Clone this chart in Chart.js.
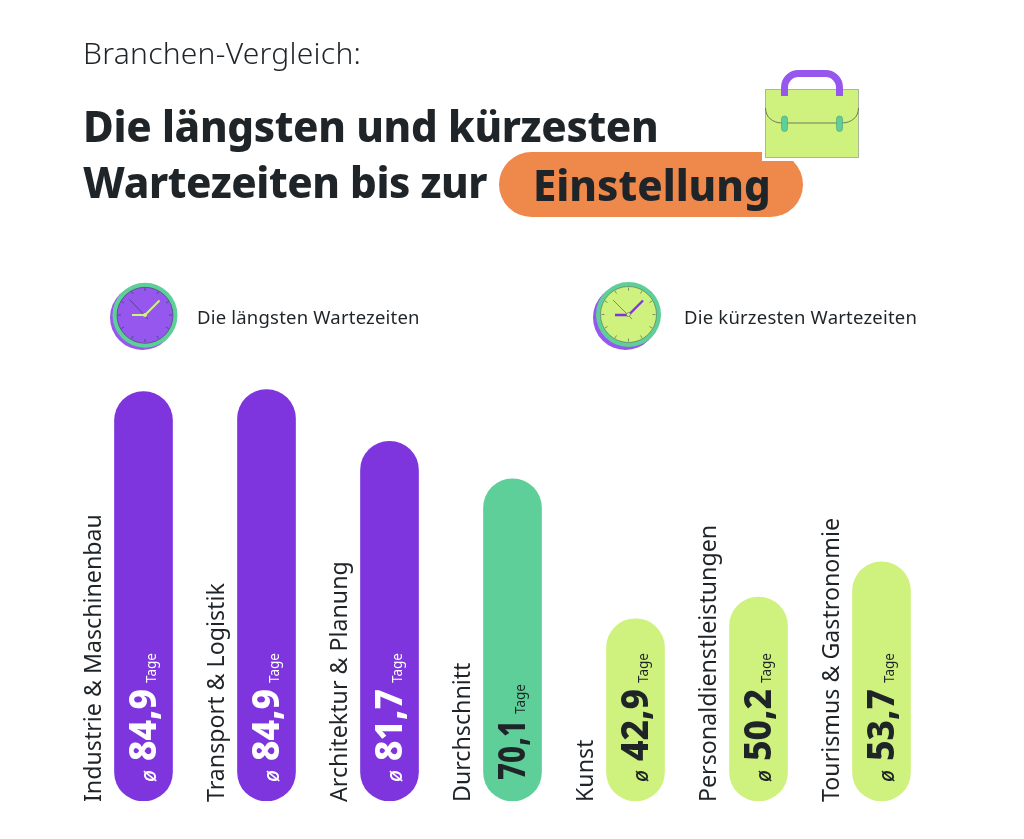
<!DOCTYPE html>
<html lang="de">
<head>
<meta charset="utf-8">
<title>Branchen-Vergleich</title>
<script src="https://cdn.jsdelivr.net/npm/chart.js@4/dist/chart.umd.min.js"></script>
<style>
  html, body { margin: 0; background: #fff; }
  #page { position: relative; width: 1024px; height: 839px; overflow: hidden; font-family: "Noto Sans", sans-serif; color: #1f2428; }
  #chart { position: absolute; left: 0; top: 0; }
  .text { position: absolute; white-space: nowrap; line-height: 1; }
  .kicker { left: 83px; top: 38px; font-size: 30px; font-weight: 350; letter-spacing: .25px; }
  .headline { font-size: 42px; font-weight: 800; }
  .pill { position: absolute; left: 499px; top: 152px; width: 304px; height: 65px; border-radius: 33px; background: #ef884b; }
  .legend { font-size: 18.500px; letter-spacing: .2px; }
  svg { position: absolute; left: 0; top: 0; }
</style>
</head>
<body>
<div id="page">
  <canvas id="chart" width="1024" height="839"></canvas>
  <div class="pill"></div>
  <svg width="1024" height="839" viewBox="0 0 1024 839">
    <rect x="762" y="86" width="100" height="75" fill="#fff"/>
    <rect x="765.500" y="89.500" width="93" height="68" fill="#cff27e" stroke="#a9b79a" stroke-width="1"/>
    <path d="M784.500 96V88a14 14 0 0 1 14-14.500h27a14 14 0 0 1 14 14.500v8" fill="none" stroke="#9557ee" stroke-width="7"/>
    <path d="M765.500 108c0 9 7 15 17 15h59c10 0 17-6 17-15" fill="none" stroke="#6f7a5c" stroke-width="1"/>
    <rect x="781.500" y="116" width="6" height="15.500" rx="3" fill="#5ecf98" stroke="#4b9c78" stroke-width=".6"/>
    <rect x="836.500" y="116" width="6" height="15.500" rx="3" fill="#5ecf98" stroke="#4b9c78" stroke-width=".6"/>

    <circle cx="142.500" cy="317.500" r="32.500" fill="#9557ee"/>
    <circle cx="145" cy="315.300" r="32.500" fill="#5ecf98"/>
    <circle cx="145" cy="315.300" r="28" fill="#9557ee" stroke="#3b3a55" stroke-width=".6"/>
    <g stroke="#4a3a77" stroke-width=".8">
      <path d="M145 288v3M145 342v-3M118 315h3M172 315h-3M131.500 291.500l1.500 2.500M158.500 291.500l-1.500 2.500M131.500 338.500l1.500-2.500M158.500 338.500l-1.500-2.500M121.500 301.500l2.500 1.500M168.500 301.500l-2.500 1.500M121.500 328.500l2.500-1.500M168.500 328.500l-2.500-1.500"/>
      <path d="M129.500 299.500L148 319"/>
    </g>
    <path d="M159.500 300.500L145 315H132" fill="none" stroke="#cff27e" stroke-width="2"/>
    <circle cx="145" cy="315" r="2" fill="#cff27e"/>

    <circle cx="625.500" cy="317.500" r="32.500" fill="#9557ee"/>
    <circle cx="628.500" cy="314.500" r="32.500" fill="#5ecf98"/>
    <circle cx="628.500" cy="314.500" r="28" fill="#cff27e" stroke="#5c6b50" stroke-width=".6"/>
    <g stroke="#66755a" stroke-width=".8">
      <path d="M628.500 287.500v3M628.500 341.500v-3M601.500 314.500h3M655.500 314.500h-3M615 291l1.500 2.500M642 291l-1.500 2.500M615 338l1.500-2.500M642 338l-1.500-2.500M605 301l2.500 1.500M652 301l-2.500 1.500M605 328l2.500-1.500M652 328l-2.500-1.500"/>
      <path d="M613 300L632 319"/>
    </g>
    <path d="M643 300.500L628.500 315H615" fill="none" stroke="#7f35dd" stroke-width="2.300"/>
    <circle cx="628.500" cy="314.500" r="2" fill="#cff27e" stroke="#66755a" stroke-width=".6"/>
  </svg>
  <div class="text kicker">Branchen-Vergleich:</div>
  <div class="text headline" style="left:83px;top:105px;letter-spacing:-.33px">Die längsten und kürzesten</div>
  <div class="text headline" style="left:83px;top:161px;letter-spacing:-.42px">Wartezeiten bis zur</div>
  <div class="text headline" style="left:533px;top:164px">Einstellung</div>
  <div class="text legend" style="left:197px;top:308px">Die längsten Wartezeiten</div>
  <div class="text legend" style="left:684px;top:308px">Die kürzesten Wartezeiten</div>
</div>
<script>
const categories = ["Industrie & Maschinenbau", "Transport & Logistik", "Architektur & Planung", "Durchschnitt", "Kunst", "Personaldienstleistungen", "Tourismus & Gastronomie"];
// printed on the bars
const printedDays = ["84,9", "84,9", "81,7", "70,1", "42,9", "50,2", "53,7"];
// the bars in the picture are not to scale with their printed figures, so their lengths are read off separately
const barDays = [84.9, 85.3, 74.6, 66.8, 37.8, 42.3, 49.6];
const groups = ["long", "long", "long", "average", "short", "short", "short"];

const PURPLE = "#7f35dd";
const GREEN = "#5ecf98";
const LIME = "#cff27e";
const INK = "#1f2428";
const groupColor = { long: PURPLE, average: GREEN, short: LIME };
const FONT = '"Noto Sans", sans-serif';

// rotated category names and the figures inside the bars
const barText = {
  id: "barText",
  afterDatasetsDraw(chart) {
    const { ctx, scales } = chart;
    const base = scales.y.getPixelForValue(0);
    chart.getDatasetMeta(0).data.forEach((bar, i) => {
      const isAverage = groups[i] === "average";
      const ink = groups[i] === "long" ? "#fff" : INK;
      ctx.save();
      ctx.translate(bar.x, base);
      ctx.rotate(-Math.PI / 2);
      ctx.textBaseline = "alphabetic";
      ctx.textAlign = "left";

      ctx.fillStyle = INK;
      ctx.font = `400 23.2px ${FONT}`;
      ctx.fillText(categories[i], -1, -43);

      ctx.fillStyle = ink;
      if (!isAverage) {
        ctx.font = `italic 500 21px ${FONT}`;
        ctx.fillText("ø", 19, 12);
      }
      const start = isAverage ? 21 : 40;
      const width = isAverage ? 60 : 72;
      ctx.font = `800 38px ${FONT}`;
      ctx.fillText(printedDays[i], start, 12, width);
      ctx.font = `400 13.5px ${FONT}`;
      ctx.fillText("Tage", start + width + 6, 12);
      ctx.restore();
    });
  }
};

new Chart(document.getElementById("chart"), {
  type: "bar",
  data: {
    labels: categories,
    datasets: [{
      data: barDays,
      backgroundColor: groups.map((g) => groupColor[g]),
      barThickness: 58,
      borderRadius: 29,
      borderSkipped: false
    }]
  },
  options: {
    responsive: false,
    animation: false,
    layout: { padding: { left: 82, right: 81, top: 367, bottom: 38 } },
    plugins: { legend: { display: false }, tooltip: { enabled: false } },
    scales: {
      x: { display: false },
      y: { display: false, min: 0, max: 90 }
    }
  },
  plugins: [barText]
});
</script>
</body>
</html>
